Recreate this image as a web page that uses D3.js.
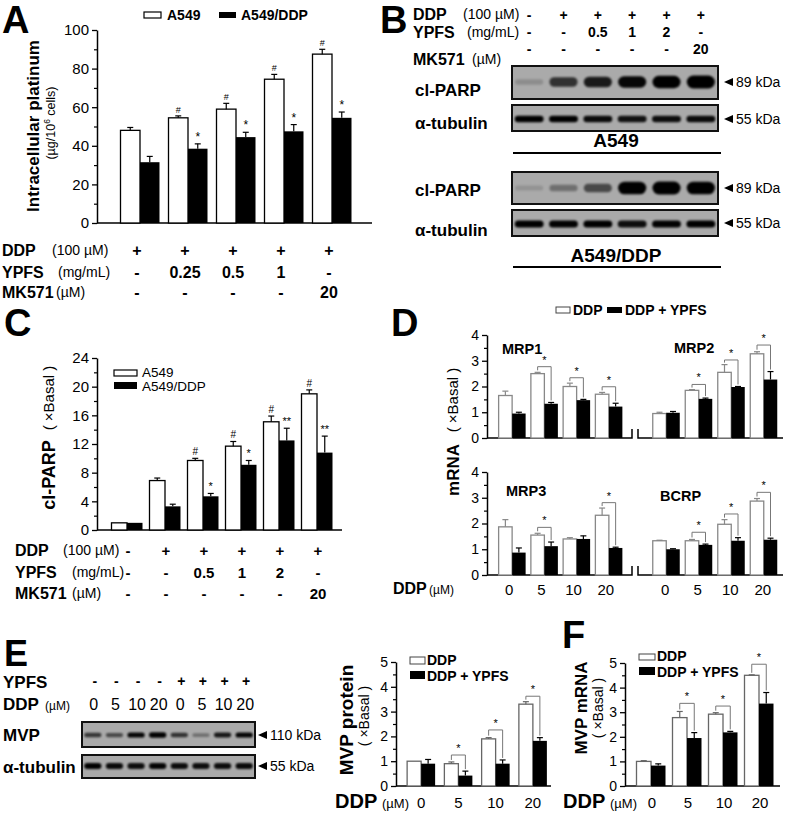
<!DOCTYPE html>
<html><head><meta charset="utf-8">
<script src="https://cdn.jsdelivr.net/npm/d3@7"></script>
<style>body{margin:0;background:#fff}</style>
</head><body><script>
// ---------- DATA ----------
// Panel A
const aGroups = ["g1","g2","g3","g4","g5"];
const aA549 = [48, 54.5, 59, 74.5, 87.5];
const aA549Err = [1.5, 1, 3, 2.5, 2.5];
const aDDP = [31.5, 38.5, 44.5, 47.5, 54.5];
const aDDPErr = [3, 2.5, 2.5, 3.5, 3];
const aSigW = ["", "#", "#", "#", "#"];
const aSigB = ["", "*", "*", "*", "*"];
const aTicks = [0, 20, 40, 60, 80, 100];
const aMinor = [10, 30, 50, 70, 90];
const aRowDDP = ["+","+","+","+","+"];
const aRowYPFS = ["-","0.25","0.5","1","-"];
const aRowMK = ["-","-","-","-","20"];
// Panel B (band intensities per lane)
const bRowDDP = ["-","+","+","+","+","+"];
const bRowYPFS = ["-","-","0.5","1","2","-"];
const bRowMK = ["-","-","-","-","-","20"];
const parpA549 = [0.15, 0.62, 0.74, 0.84, 0.93, 1.0];
const tubA549 = [0.9, 0.88, 0.82, 0.78, 0.8, 0.82];
const parpDDP = [0.12, 0.3, 0.5, 0.96, 1.0, 0.95];
const tubDDP = [0.92, 0.86, 0.92, 0.8, 0.86, 0.88];
// Panel C
const cGroups = ["g1","g2","g3","g4","g5","g6"];
const cA549 = [1, 6.9, 9.7, 11.7, 15.1, 19.0];
const cA549Err = [0, 0.35, 0.3, 0.65, 0.8, 0.55];
const cDDP = [1, 3.3, 4.7, 9.1, 12.5, 10.8];
const cDDPErr = [0, 0.3, 0.4, 0.6, 1.7, 2.3];
const cSigW = ["", "", "#", "#", "#", "#"];
const cSigB = ["", "", "*", "*", "**", "**"];
const cTicks = [0, 4, 8, 12, 16, 20, 24];
const cMinor = [2, 6, 10, 14, 18, 22];
const cRowDDP = ["-","+","+","+","+","+"];
const cRowYPFS = ["-","-","0.5","1","2","-"];
const cRowMK = ["-","-","-","-","-","20"];
// Panel D
const doses = ["0","5","10","20"];
const mrp1DDP = [1.65, 2.5, 2.0, 1.7], mrp1DDPErr = [0.17, 0.05, 0.13, 0.07];
const mrp1YPFS = [0.95, 1.33, 1.47, 1.22], mrp1YPFSErr = [0.05, 0.05, 0.03, 0.13];
const mrp1Brk = [null, 2.77, 2.34, 1.99];
const mrp2DDP = [0.95, 1.85, 2.55, 3.27], mrp2DDPErr = [0.05, 0.03, 0.3, 0.08];
const mrp2YPFS = [0.98, 1.52, 1.98, 2.27], mrp2YPFSErr = [0.05, 0.03, 0.02, 0.31];
const mrp2Brk = [null, 2.08, 3.03, 3.61];
const mrp3DDP = [1.87, 1.55, 1.4, 2.32], mrp3DDPErr = [0.28, 0.07, 0.05, 0.28];
const mrp3YPFS = [0.87, 1.12, 1.4, 1.05], mrp3YPFSErr = [0.18, 0.16, 0.12, 0.03];
const mrp3Brk = [null, 1.85, null, 2.81];
const bcrpDDP = [1.33, 1.33, 1.97, 2.87], bcrpDDPErr = [0.02, 0.05, 0.18, 0.1];
const bcrpYPFS = [1.0, 1.17, 1.33, 1.37], bcrpYPFSErr = [0.02, 0.03, 0.12, 0.06];
const bcrpBrk = [null, 1.66, 2.37, 3.21];
const dTicks = [0, 1, 2, 3, 4];
const dMinor = [0.5, 1.5, 2.5, 3.5];
// Panel E
const eRowYPFS = ["-","-","-","-","+","+","+","+"];
const eRowDDP = ["0","5","10","20","0","5","10","20"];
const mvpBand = [0.6, 0.5, 0.85, 0.95, 0.62, 0.3, 0.75, 0.85];
const tubE = [0.95, 0.82, 0.8, 0.85, 0.8, 0.8, 0.8, 0.82];
const eDDP = [1.0, 0.9, 1.9, 3.3], eDDPErr = [0, 0.07, 0.05, 0.1];
const eYPFS = [0.9, 0.42, 0.9, 1.82], eYPFSErr = [0.17, 0.18, 0.15, 0.13];
const eBrk = [null, 1.25, 2.26, 3.62];
// Panel F
const fDDP = [1.0, 2.78, 2.92, 4.5], fDDPErr = [0.03, 0.25, 0.06, 0.02];
const fYPFS = [0.83, 1.95, 2.18, 3.35], fYPFSErr = [0.07, 0.22, 0.04, 0.45];
const fBrk = [null, 3.36, 3.25, 4.95];
const efTicks = [0, 1, 2, 3, 4, 5];
const efMinor = [0.5, 1.5, 2.5, 3.5, 4.5];

// ---------- DRAWING ----------
const FONT = "Arial, 'Liberation Sans', Helvetica, sans-serif";
const BASAL = "( ×Basal )";
const svg = d3.select("body").append("svg").attr("width",787).attr("height",813);
const defs = svg.append("defs");
defs.append("filter").attr("id","blur").attr("x","-30%").attr("y","-100%").attr("width","160%").attr("height","300%")
  .append("feGaussianBlur").attr("stdDeviation",1.3);

function T(g, x, y, s, size, o = {}) {
  const t = g.append("text").attr("x",x).attr("y",y).attr("font-size",size)
    .attr("font-family",FONT).text(s);
  if (o.bold) t.attr("font-weight","bold");
  if (o.anchor) t.attr("text-anchor",o.anchor);
  if (o.fill) t.attr("fill",o.fill);
  if (o.rot) t.attr("transform",`rotate(-90,${x},${y})`);
  return t;
}

function yAxis(g, y, x0, ticks, minor, fs) {
  const ax = g.append("g").attr("transform",`translate(${x0},0)`)
    .call(d3.axisLeft(y).tickValues(ticks).tickSize(5).tickSizeOuter(0).tickPadding(3).tickFormat(d3.format("d")));
  ax.select(".domain").attr("stroke","#000").attr("stroke-width",1.5);
  ax.selectAll(".tick line").attr("stroke","#000").attr("stroke-width",1.3);
  ax.selectAll(".tick text").attr("font-size",fs).attr("font-family",FONT).attr("fill","#000");
  const mn = g.append("g").attr("transform",`translate(${x0},0)`)
    .call(d3.axisLeft(y).tickValues(minor).tickSize(3).tickFormat(""));
  mn.select(".domain").remove();
  mn.selectAll(".tick line").attr("stroke","#000").attr("stroke-width",1.2);
}

function barSet(g, x, y, bw, white, whiteErr, black, blackErr, wStroke) {
  const c = (i) => x(x.domain()[i]) + x.bandwidth()/2;
  const idx = white.map((d,i)=>i);
  g.selectAll(null).data(idx).join("rect")
    .attr("x",i=>c(i)-bw).attr("y",i=>y(white[i])).attr("width",bw).attr("height",i=>y(0)-y(white[i]))
    .attr("fill","#fff").attr("stroke",wStroke).attr("stroke-width",1.3);
  g.selectAll(null).data(idx).join("rect")
    .attr("x",i=>c(i)).attr("y",i=>y(black[i])).attr("width",bw).attr("height",i=>y(0)-y(black[i]))
    .attr("fill","#000");
  const eb = (cx, v, e, col) => {
    if (!e) return;
    g.append("line").attr("x1",cx).attr("x2",cx).attr("y1",y(v)).attr("y2",y(v+e)).attr("stroke",col).attr("stroke-width",1.2);
    g.append("line").attr("x1",cx-3).attr("x2",cx+3).attr("y1",y(v+e)).attr("y2",y(v+e)).attr("stroke",col).attr("stroke-width",1.2);
  };
  idx.forEach(i => { eb(c(i)-bw/2, white[i], whiteErr[i], wStroke); eb(c(i)+bw/2, black[i], blackErr[i], "#000"); });
  return c;
}

function sigMarks(g, c, y, bw, vals, errs, marks, side, fs) {
  vals.forEach((v,i) => {
    if (!marks[i]) return;
    const cx = c(i) + (side < 0 ? -bw/2 : bw/2);
    T(g, cx, y(v + errs[i]) - 3, marks[i], fs, {anchor:"middle", fill:"#000"});
  });
}

function brackets(g, c, y, bw, white, whiteErr, black, blackErr, brk) {
  brk.forEach((h,i) => {
    if (h == null) return;
    const xl = c(i) - bw/2, xr = c(i) + bw/2;
    const yl = y(white[i] + whiteErr[i]) - 2, yr = y(black[i] + blackErr[i]) - 2;
    g.append("path").attr("d",`M${xl},${yl}V${y(h)}H${xr}V${yr}`)
      .attr("fill","none").attr("stroke","#777").attr("stroke-width",1);
    T(g, (xl+xr)/2, y(h) - 3, "*", 11, {anchor:"middle", fill:"#000"});
  });
}

function blot(x0, y0, w, h, vals, bandCy, thick, wfrac) {
  const g = svg.append("g");
  const lx = d3.scaleBand().domain(vals.map((d,i)=>i)).range([x0, x0+w]);
  g.append("rect").attr("x",x0).attr("y",y0).attr("width",w).attr("height",h).attr("fill","#aaaaaa");
  g.selectAll(null).data(vals).join("rect")
    .attr("x",(d,i)=>lx(i)+lx.bandwidth()*(1-wfrac)/2).attr("width",lx.bandwidth()*wfrac)
    .attr("y",d=>bandCy-thick(d)/2).attr("height",d=>thick(d))
    .attr("rx",d=>thick(d)/2).attr("fill","#050505").attr("fill-opacity",d=>Math.min(1,d*1.15))
    .attr("filter","url(#blur)");
  g.append("rect").attr("x",x0).attr("y",y0).attr("width",w).attr("height",h)
    .attr("fill","none").attr("stroke","#111").attr("stroke-width",2);
  return lx;
}

function arrowLabel(x, y, s, fs) {
  svg.append("path").attr("d",`M${x},${y}L${x+9},${y-4}L${x+9},${y+4}Z`).attr("fill","#000");
  T(svg, x+12, y+5, s, fs);
}

// Panel letters
[["A",2,33,38],["B",380,33,38],["C",4,336,38],["D",391,336,38],["E",4,666,36],["F",562,648,38]].forEach(([s,x,y,fs]) =>
  T(svg, x, y, s, fs, {bold:true}));

// ===== Panel A =====
{
  const g = svg.append("g");
  const x = d3.scaleBand().domain(aGroups).range([116, 356]);
  const y = d3.scaleLinear().domain([0,100]).range([223, 30]);
  yAxis(g, y, 97, aTicks, aMinor, 15);
  g.append("line").attr("x1",97).attr("x2",372).attr("y1",y(0)).attr("y2",y(0)).attr("stroke","#000").attr("stroke-width",1.5);
  const c = barSet(g, x, y, 19.5, aA549, aA549Err, aDDP, aDDPErr, "#000");
  sigMarks(g, c, y, 19.5, aA549, aA549Err, aSigW, -1, 9);
  sigMarks(g, c, y, 19.5, aDDP, aDDPErr, aSigB, 1, 12);
  g.append("rect").attr("x",144).attr("y",12).attr("width",17).attr("height",6).attr("fill","#fff").attr("stroke","#000").attr("stroke-width",1.2);
  T(g, 167, 20, "A549", 14, {bold:true});
  g.append("rect").attr("x",219).attr("y",12).attr("width",17).attr("height",6).attr("fill","#000");
  T(g, 241, 20, "A549/DDP", 14, {bold:true});
  T(g, 39, 126, "Intracellular platinum", 17, {bold:true, anchor:"middle", rot:true});
  const yl = T(g, 55, 123, "", 12.5, {anchor:"middle", rot:true});
  yl.append("tspan").text("(µg/10");
  yl.append("tspan").attr("font-size",8.5).attr("dy",-5).text("6");
  yl.append("tspan").attr("dy",5).text(" cells)");
  [["DDP","(100 µM)",256,52,aRowDDP],["YPFS","(mg/mL)",278,58,aRowYPFS],["MK571","(µM)",298,56,aRowMK]].forEach(([lab,unit,yy,ux,row]) => {
    T(g, 2, yy, lab, 16, {bold:true});
    T(g, ux, yy-1, unit, 14);
    row.forEach((s,i) => T(g, c(i)-3, yy, s, 16, {bold:true, anchor:"middle"}));
  });
}

// ===== Panel B =====
{
  const g = svg.append("g");
  const lx = blot(512, 66, 206, 33, parpA549, 82, d => 4 + 9*d, 0.82);
  blot(512, 105, 206, 26, tubA549, 119, d => 6.5, 0.84);
  blot(512, 172, 206, 32, parpDDP, 188, d => 4 + 9*d, 0.82);
  blot(512, 210, 206, 26, tubDDP, 224, d => 7, 0.84);
  const lc = i => lx(i) + lx.bandwidth()/2;
  [["DDP","(100 µM)",20,463,bRowDDP,20],["YPFS","(mg/mL)",38,467,bRowYPFS,37],["MK571","(µM)",65,472,bRowMK,54]].forEach(([lab,unit,yy,ux,row,vy]) => {
    T(g, 413, yy, lab, 16, {bold:true});
    T(g, ux, yy-1, unit, 14);
    row.forEach((s,i) => T(g, lc(i), vy, s, 14, {bold:true, anchor:"middle"}));
  });
  T(g, 415, 96, "cl-PARP", 17, {bold:true});
  T(g, 415, 129, "α-tubulin", 17, {bold:true});
  T(g, 415, 196, "cl-PARP", 17, {bold:true});
  T(g, 415, 236, "α-tubulin", 17, {bold:true});
  arrowLabel(724, 82, "89 kDa", 14);
  arrowLabel(724, 119, "55 kDa", 14);
  arrowLabel(724, 188, "89 kDa", 14);
  arrowLabel(724, 223, "55 kDa", 14);
  T(g, 616, 147, "A549", 19, {bold:true, anchor:"middle"});
  g.append("line").attr("x1",513).attr("x2",721).attr("y1",153).attr("y2",153).attr("stroke","#000").attr("stroke-width",2);
  T(g, 616, 262, "A549/DDP", 19, {bold:true, anchor:"middle"});
  g.append("line").attr("x1",513).attr("x2",721).attr("y1",267).attr("y2",267).attr("stroke","#000").attr("stroke-width",2);
}

// ===== Panel C =====
{
  const g = svg.append("g");
  const x = d3.scaleBand().domain(cGroups).range([108, 336]);
  const y = d3.scaleLinear().domain([0,24]).range([530, 358]);
  yAxis(g, y, 97, cTicks, cMinor, 15);
  g.append("line").attr("x1",97).attr("x2",342).attr("y1",y(0)).attr("y2",y(0)).attr("stroke","#000").attr("stroke-width",1.5);
  const c = barSet(g, x, y, 15.5, cA549, cA549Err, cDDP, cDDPErr, "#000");
  sigMarks(g, c, y, 15.5, cA549, cA549Err, cSigW, -1, 10);
  sigMarks(g, c, y, 15.5, cDDP, cDDPErr, cSigB, 1, 11);
  g.append("rect").attr("x",114).attr("y",370).attr("width",23).attr("height",6).attr("fill","#fff").attr("stroke","#000").attr("stroke-width",1.2);
  T(g, 142, 377, "A549", 13.5);
  g.append("rect").attr("x",114).attr("y",382).attr("width",23).attr("height",7).attr("fill","#000");
  T(g, 142, 391, "A549/DDP", 13.5);
  T(g, 55, 475, "cl-PARP", 18, {bold:true, anchor:"middle", rot:true});
  T(g, 54, 398, BASAL, 15, {anchor:"middle", rot:true});
  [["DDP","(100 µM)",556,63,cRowDDP],["YPFS","(mg/mL)",578,72,cRowYPFS],["MK571","(µM)",599,72,cRowMK]].forEach(([lab,unit,yy,ux,row]) => {
    T(g, 15, yy, lab, 16, {bold:true});
    T(g, ux, yy-1, unit, 14);
    row.forEach((s,i) => T(g, c(i)+1, yy, s, 15, {bold:true, anchor:"middle"}));
  });
}

// ===== Panel D =====
{
  const g = svg.append("g");
  const xL = d3.scaleBand().domain(doses).range([496, 625]);
  const xR = d3.scaleBand().domain(doses).range([650, 780]);
  const yT = d3.scaleLinear().domain([0,4]).range([438, 335]);
  const yB = d3.scaleLinear().domain([0,4]).range([575, 472]);
  const bw = 13.5;
  const sub = (x, y, wv, we, bv, be, brk, title, tx, ty) => {
    const c = barSet(g, x, y, bw, wv, we, bv, be, "#888");
    brackets(g, c, y, bw, wv, we, bv, be, brk);
    T(g, tx, ty, title, 14.5, {bold:true});
    return c;
  };
  yAxis(g, yT, 487, dTicks, dMinor, 14);
  yAxis(g, yB, 487, dTicks, dMinor, 14);
  [yT, yB].forEach(y => {
    g.append("path").attr("d",`M487,${y(0)}H632V${y(0)-9}`).attr("fill","none").attr("stroke","#000").attr("stroke-width",1.5);
    g.append("path").attr("d",`M638,${y(0)-9}V${y(0)}H783`).attr("fill","none").attr("stroke","#000").attr("stroke-width",1.5);
  });
  sub(xL, yT, mrp1DDP, mrp1DDPErr, mrp1YPFS, mrp1YPFSErr, mrp1Brk, "MRP1", 502, 354);
  sub(xR, yT, mrp2DDP, mrp2DDPErr, mrp2YPFS, mrp2YPFSErr, mrp2Brk, "MRP2", 674, 353);
  const cL = sub(xL, yB, mrp3DDP, mrp3DDPErr, mrp3YPFS, mrp3YPFSErr, mrp3Brk, "MRP3", 506, 496);
  const cR = sub(xR, yB, bcrpDDP, bcrpDDPErr, bcrpYPFS, bcrpYPFSErr, bcrpBrk, "BCRP", 660, 501);
  g.append("rect").attr("x",556).attr("y",307).attr("width",14).attr("height",6).attr("fill","#fff").attr("stroke","#444").attr("stroke-width",1);
  T(g, 573, 315, "DDP", 14, {bold:true});
  g.append("rect").attr("x",607).attr("y",307).attr("width",15).attr("height",6).attr("fill","#000");
  T(g, 625, 315, "DDP + YPFS", 14, {bold:true});
  T(g, 459, 470, "mRNA", 17, {bold:true, anchor:"middle", rot:true});
  T(g, 458, 400, BASAL, 15, {anchor:"middle", rot:true});
  T(g, 393, 594, "DDP", 16, {bold:true});
  T(g, 429, 594, "(µM)", 12);
  doses.forEach((d,i) => { T(g, cL(i)-3, 595, d, 15, {anchor:"middle"}); T(g, cR(i)-1, 595, d, 15, {anchor:"middle"}); });
}

// ===== Panel E =====
{
  const g = svg.append("g");
  const lx = blot(82, 722, 173, 25, mvpBand, 735, d => 3 + 2.5*d, 0.8);
  blot(82, 755, 173, 23, tubE, 766, d => 6, 0.8);
  const lc = i => lx(i) + lx.bandwidth()/2;
  T(g, 3, 688, "YPFS", 17, {bold:true});
  eRowYPFS.forEach((s,i) => T(g, lc(i)+2, 686, s, 14, {bold:true, anchor:"middle"}));
  T(g, 3, 710, "DDP", 17, {bold:true});
  T(g, 45, 710, "(µM)", 12);
  eRowDDP.forEach((s,i) => T(g, lc(i)+1, 710, s, 16, {anchor:"middle"}));
  T(g, 3, 741, "MVP", 17, {bold:true});
  T(g, 3, 773, "α-tubulin", 17, {bold:true});
  arrowLabel(258, 735, "110 kDa", 14);
  arrowLabel(258, 766, "55  kDa", 14);

  const x = d3.scaleBand().domain(doses).range([402.5, 551.5]);
  const y = d3.scaleLinear().domain([0,5]).range([786, 662]);
  yAxis(g, y, 396, efTicks, efMinor, 14);
  g.append("line").attr("x1",396).attr("x2",551).attr("y1",y(0)).attr("y2",y(0)).attr("stroke","#000").attr("stroke-width",1.5);
  const c = barSet(g, x, y, 14, eDDP, eDDPErr, eYPFS, eYPFSErr, "#666");
  brackets(g, c, y, 14, eDDP, eDDPErr, eYPFS, eYPFSErr, eBrk);
  g.append("rect").attr("x",410).attr("y",657).attr("width",15).attr("height",7).attr("fill","#fff").attr("stroke","#444").attr("stroke-width",1);
  T(g, 427, 665, "DDP", 14, {bold:true});
  g.append("rect").attr("x",410).attr("y",671).attr("width",15).attr("height",8).attr("fill","#000");
  T(g, 427, 681, "DDP + YPFS", 14, {bold:true});
  T(g, 353, 720, "MVP protein", 19, {bold:true, anchor:"middle", rot:true});
  T(g, 369, 716, BASAL, 14, {anchor:"middle", rot:true});
  T(g, 335, 808, "DDP", 20, {bold:true});
  T(g, 382, 808, "(µM)", 13);
  doses.forEach((d,i) => T(g, c(i), 808, d, 15, {anchor:"middle"}));
}

// ===== Panel F =====
{
  const g = svg.append("g");
  const x = d3.scaleBand().domain(doses).range([633, 777]);
  const y = d3.scaleLinear().domain([0,5]).range([786, 663]);
  yAxis(g, y, 625, efTicks, efMinor, 14);
  g.append("line").attr("x1",625).attr("x2",780).attr("y1",y(0)).attr("y2",y(0)).attr("stroke","#000").attr("stroke-width",1.5);
  const c = barSet(g, x, y, 14.5, fDDP, fDDPErr, fYPFS, fYPFSErr, "#666");
  brackets(g, c, y, 14.5, fDDP, fDDPErr, fYPFS, fYPFSErr, fBrk);
  g.append("rect").attr("x",639).attr("y",654).attr("width",16).attr("height",6).attr("fill","#fff").attr("stroke","#444").attr("stroke-width",1);
  T(g, 657, 661, "DDP", 14, {bold:true});
  g.append("rect").attr("x",639).attr("y",667).attr("width",16).attr("height",8).attr("fill","#000");
  T(g, 657, 677, "DDP + YPFS", 14, {bold:true});
  T(g, 587, 708, "MVP mRNA", 17, {bold:true, anchor:"middle", rot:true});
  T(g, 603, 708, BASAL, 14, {anchor:"middle", rot:true});
  T(g, 563, 808, "DDP", 20, {bold:true});
  T(g, 610, 808, "(µM)", 13);
  doses.forEach((d,i) => T(g, c(i)+1, 808, d, 15, {anchor:"middle"}));
}
</script></body></html>
